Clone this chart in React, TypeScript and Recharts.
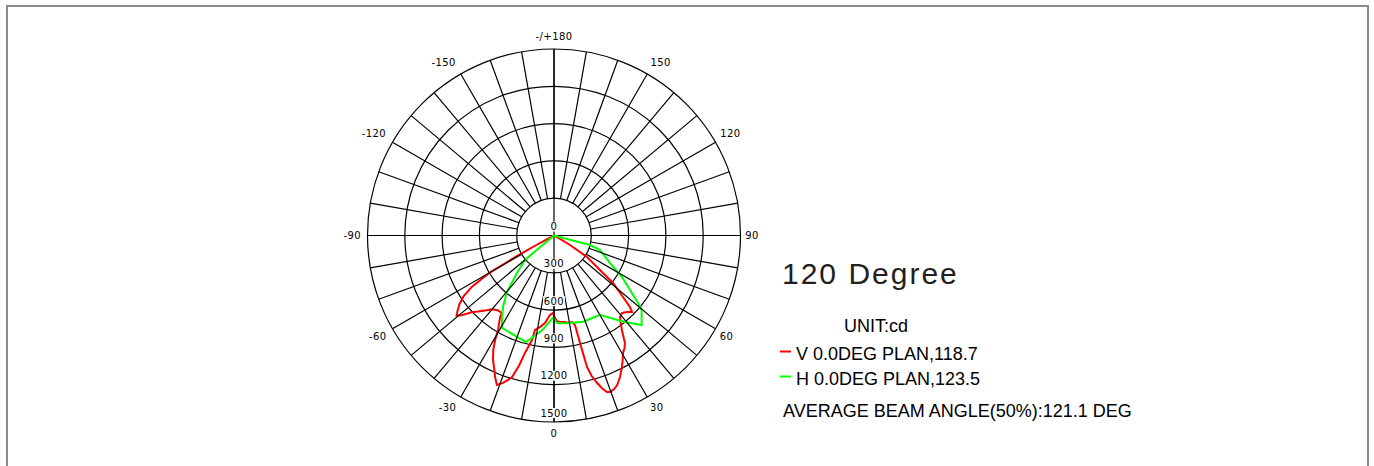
import React from 'react';
import {
  RadarChart,
  Radar,
  PolarGrid,
  PolarAngleAxis,
  PolarRadiusAxis,
  Polygon,
} from 'recharts';

// V 0.0DEG plane (red), angle in degrees (0 = bottom), intensity in cd
const vAngles = [
  -64, -62, -61, -60, -58, -56, -54, -52, -50.5, -49, -47, -45, -42, -40, -37, -34, -33.5,
  -30.6, -29.4, -28, -26.1, -24, -22.6, -20.9, -19.1, -17.5, -16.5, -15, -13.9, -11.9, -11.4,
  -8.7, -5.9, -2.9, -0.7, 0.7, 2, 4, 7.2, 9.1, 11.8, 13.2, 13.6, 14.1, 15, 16.3, 17.5, 18.7,
  19.7, 21.5, 22.9, 25, 27.3, 29, 30.4, 32, 33.4, 35.7, 37.5, 39, 41.3, 43.7, 45.6, 46.7, 48.3,
  51.2, 53.1, 56.9, 59.3, 62, 64,
];
const vValues = [
  0, 120, 330, 600, 780, 880, 940, 985, 1015, 975, 905, 865, 810, 775, 752, 752, 786,
  883, 965, 1040, 1115, 1180, 1233, 1287, 1255, 1215, 1187, 1080, 973, 859, 775,
  745, 708, 640, 623, 664, 690, 697, 701, 713, 711, 739, 890, 1090, 1170, 1236, 1290, 1329,
  1337, 1325, 1305, 1256, 1191, 1140, 1096, 1070, 1036, 936, 880, 844, 829, 851, 879, 839, 743,
  609, 462, 317, 150, 40, 0,
];

// H 0.0DEG plane (green)
const hAngles = [
  -53, -50, -44.6, -39.8, -35.5, -32.5, -29.3, -14.7, -7, -0.7, 2, 8.2, 18.8, 30.1, 38.8,
  44.4, 49.6, 51.2, 54.4, 58.6, 63.8, 72.5, 75.2, 78,
];
const hValues = [
  0, 305, 424, 591, 706, 778, 853, 887, 766, 660, 704, 714, 732, 738, 890,
  1008, 925, 867, 752, 641, 502, 388, 300, 0,
];

const spokeAngles = Array.from({ length: 36 }, (_, i) => -180 + i * 10);
const ringValues = [0, 300, 600, 900, 1200, 1500];

const vName = 'V 0.0DEG PLAN,118.7';
const hName = 'H 0.0DEG PLAN,123.5';
const title = '120 Degree';
const unitText = 'UNIT:cd';
const beamText = 'AVERAGE BEAM ANGLE(50%):121.1 DEG';

// merged table sorted by angle; each row only carries the series measured there
const rows = (() => {
  const map = new Map<number, { angle: number; v?: number; h?: number }>();
  vAngles.forEach((a, i) => map.set(a, { ...(map.get(a) || { angle: a }), v: vValues[i] }));
  hAngles.forEach((a, i) => map.set(a, { ...(map.get(a) || { angle: a }), h: hValues[i] }));
  return Array.from(map.values()).sort((a, b) => a.angle - b.angle);
})();

const CX = 554;
const CY = 235.5;
const R_OUT = 186.5;
const R_IN = (R_OUT * 300) / 1500; // spokes start at the 300 cd ring
const RAD = Math.PI / 180;

const labelFont = '"DejaVu Sans", Verdana, sans-serif';
const textFont = '"Liberation Sans", Arial, Helvetica, sans-serif';

// angle labels sit just outside the circle; the tick lines are the spokes
const renderAngleTick = (props: any) => {
  const { payload } = props;
  const v = payload.value;
  if (v % 30 !== 0) return <g />;
  const label = v === -180 ? '-/+180' : String(v);
  const c = Math.cos(-payload.coordinate * RAD);
  const s = Math.sin(-payload.coordinate * RAD);
  const w = label.length * 6.3;
  const sx = Math.abs(c) > 0.01 ? Math.sign(c) : 0;
  const sy = Math.abs(s) > 0.01 ? Math.sign(s) : 0;
  const x = CX + (R_OUT + 4) * c + sx * 0.6 * w;
  const y = CY + (R_OUT + 7.5) * s + sy * 4.5 - 0.5;
  return (
    <text x={x} y={y} textAnchor="middle" dominantBaseline="central" fontSize={10} letterSpacing={0.4} fontFamily={labelFont} fill="#000">
      {label}
    </text>
  );
};

const renderRadiusTick = (props: any) => {
  const { x, y, payload } = props;
  const label = String(payload.value);
  const w = label.length * 6.6 + 2;
  return (
    <g>
      <rect x={x - w / 2} y={y - 14} width={w} height={10} fill="#fff" />
      <text x={x} y={y - 9} textAnchor="middle" dominantBaseline="central" fontSize={10} letterSpacing={0.4} fontFamily={labelFont} fill="#000">
        {label}
      </text>
    </g>
  );
};

// draw only the rows measured for this series
const curve = (color: string, key: 'v' | 'h') => (props: any) => {
  const pts = (props.points || []).filter(
    (p: any) => p && p.payload && typeof p.payload[key] === 'number' && Number.isFinite(p.x) && Number.isFinite(p.y),
  );
  return <Polygon points={pts} stroke={color} strokeWidth={2} fill="none" />;
};

export default function App() {
  return (
    <div style={{ position: 'absolute', left: 0, top: 0, width: 1374, height: 466, background: '#fff', overflow: 'hidden' }}>
      <div
        style={{
          position: 'absolute', left: 6, top: 5, width: 1359, height: 480,
          borderTop: '2px solid #8a8a8a', borderLeft: '2px solid #8a8a8a', borderRight: '2px solid #8a8a8a',
        }}
      />
      <RadarChart
        width={1374}
        height={466}
        cx={CX}
        cy={CY}
        outerRadius={R_OUT}
        startAngle={90}
        endAngle={450}
        data={rows}
        margin={{ top: 0, right: 0, bottom: 0, left: 0 }}
        style={{ position: 'absolute', left: 0, top: 0 }}
      >
        <PolarGrid gridType="circle" stroke="#000" strokeWidth={1.2} radialLines={false} />
        <PolarGrid gridType="circle" stroke="#000" strokeWidth={1.2} polarAngles={[0, 90, 180, 270]} polarRadius={[]} />
        <PolarAngleAxis
          dataKey="angle"
          type="number"
          domain={[-180, 180]}
          ticks={spokeAngles}
          tick={renderAngleTick}
          orientation="inner"
          tickSize={R_OUT - R_IN}
          tickLine={{ stroke: '#000', strokeWidth: 1.2 }}
          axisLine={false}
        />
        <PolarRadiusAxis
          angle={-90}
          type="number"
          domain={[0, 1500]}
          ticks={ringValues}
          tick={renderRadiusTick}
          axisLine={false}
          tickLine={false}
        />
        <Radar name={vName} dataKey="v" stroke="#ff0000" fill="none" dot={false} isAnimationActive={false} shape={curve('#ff0000', 'v')} />
        <Radar name={hName} dataKey="h" stroke="#00ff00" fill="none" dot={false} isAnimationActive={false} shape={curve('#00ff00', 'h')} />
      </RadarChart>
      <svg width={1374} height={466} style={{ position: 'absolute', left: 0, top: 0, pointerEvents: 'none' }}>
        <g fontFamily={textFont}>
          <text x={782} y={284} fontSize={30} letterSpacing={2} fill="#231f20">{title}</text>
          <text x={844} y={332} fontSize={18} fill="#000">{unitText}</text>
          <line x1={780} x2={791} y1={351.5} y2={351.5} stroke="#ff0000" strokeWidth={2} />
          <text x={796} y={359.5} fontSize={18} fill="#000">{vName}</text>
          <line x1={780} x2={791} y1={376.5} y2={376.5} stroke="#00ff00" strokeWidth={2} />
          <text x={796} y={384.5} fontSize={18} fill="#000">{hName}</text>
          <text x={783} y={416.5} fontSize={18} fill="#000">{beamText}</text>
        </g>
      </svg>
    </div>
  );
}
